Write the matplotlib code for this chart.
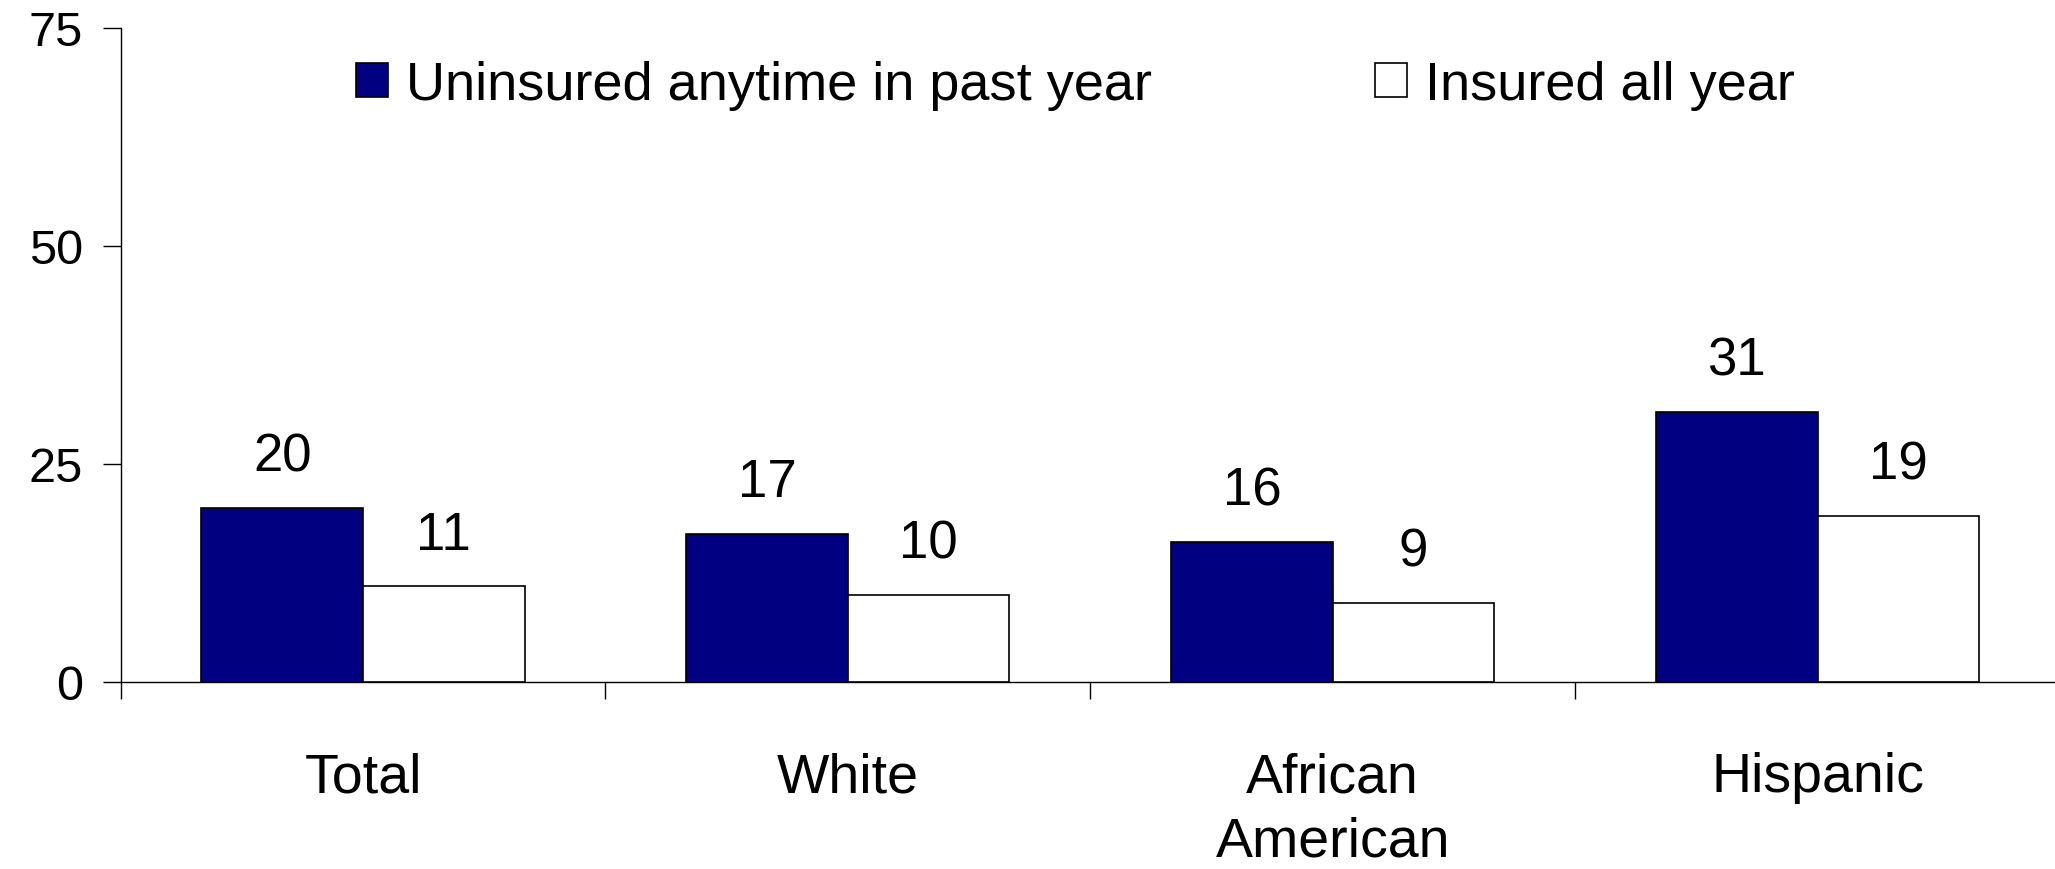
import numpy as np
import matplotlib
matplotlib.use("Agg")
import matplotlib.pyplot as plt

categories = ["Total", "White", "African\nAmerican", "Hispanic"]
uninsured = [20, 17, 16, 31]
insured = [11, 10, 9, 19]
series_names = ["Uninsured anytime in past year", "Insured all year"]
yticks = [0, 25, 50, 75]

plt.rcParams['font.family'] = ['Liberation Sans', 'DejaVu Sans']

fig = plt.figure(figsize=(20.55, 8.7), dpi=100)
ax = fig.add_axes([0.0587, 0.215, 0.9437, 0.7517])

x = np.arange(len(categories))
w = 1 / 3
b1 = ax.bar(x - w / 2, uninsured, w, color="#000080", edgecolor="black", linewidth=1.2, label=series_names[0])
b2 = ax.bar(x + w / 2, insured, w, color="white", edgecolor="black", linewidth=1.2, label=series_names[1])

for bars, vals in [(b1, uninsured), (b2, insured)]:
    for r, v in zip(bars, vals):
        ax.annotate(str(v), (r.get_x() + r.get_width() / 2, v), xytext=(0, 27),
                    textcoords="offset points", ha="center", va="baseline", fontsize=38)

ax.set_xlim(-0.5, 3.5)
ax.set_ylim(0, 75)
ax.set_yticks(yticks)
ax.tick_params(axis="y", labelsize=35, length=13, width=1, pad=14, direction="out")

ax.set_xticks(x)
ax.set_xticklabels(categories, fontsize=40, linespacing=1.3, va="top")
ax.set_xticks(np.arange(-0.5, 3.6, 1), minor=True)
ax.tick_params(axis="x", which="major", length=0, pad=50)
ax.tick_params(axis="x", which="minor", length=12, width=1, direction="out")

for s in ["top", "right"]:
    ax.spines[s].set_visible(False)
ax.spines["left"].set_linewidth(1)
ax.spines["bottom"].set_linewidth(1)

fig.legend(loc="center left", bbox_to_anchor=(0.173, 0.901), ncol=2, frameon=False,
           fontsize=39, handlelength=0.6, handleheight=0.6, handletextpad=0.34,
           columnspacing=4.1, borderpad=0, borderaxespad=0)

fig.savefig("out.png", dpi=100)
